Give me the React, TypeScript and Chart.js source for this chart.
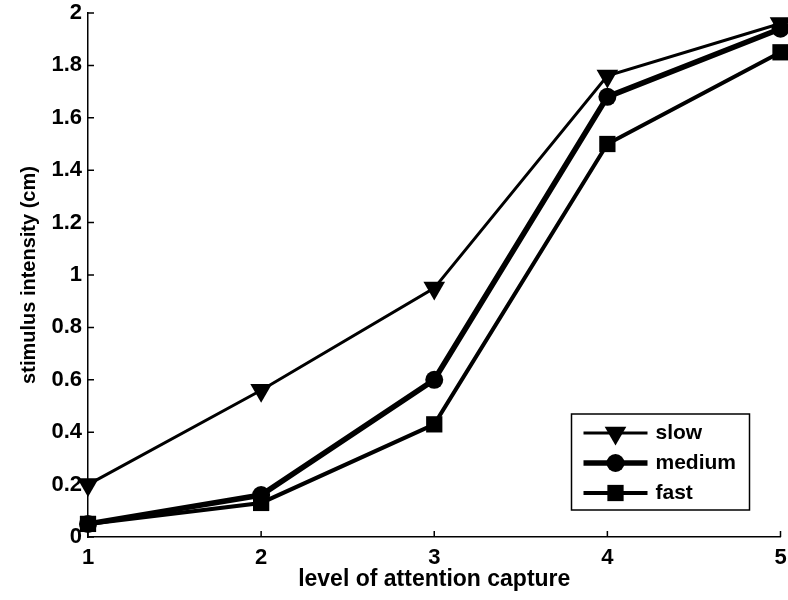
import React, { useEffect, useRef } from "react";
import { Chart, registerables } from "chart.js";

Chart.register(...registerables);

const levels = [1, 2, 3, 4, 5];
const slow = [0.2, 0.56, 0.95, 1.76, 1.96];
const medium = [0.05, 0.16, 0.6, 1.68, 1.94];
const fast = [0.05, 0.13, 0.43, 1.5, 1.85];
const seriesNames = ["slow", "medium", "fast"];

const FONT = '"Liberation Sans", Arial, Helvetica, sans-serif';

const inwardTicks = {
  id: "inwardTicks",
  afterDraw(chart: any) {
    const { ctx, scales } = chart;
    const xs = scales.x;
    const ys = scales.y;
    ctx.save();
    ctx.strokeStyle = "#000";
    ctx.lineWidth = 1.5;
    ctx.beginPath();
    xs.ticks.forEach((t: any) => {
      const px = xs.getPixelForValue(t.value);
      ctx.moveTo(px, ys.bottom);
      ctx.lineTo(px, ys.bottom - 6);
    });
    ys.ticks.forEach((t: any) => {
      const py = ys.getPixelForValue(t.value);
      ctx.moveTo(xs.left, py);
      ctx.lineTo(xs.left + 6, py);
    });
    ctx.stroke();
    ctx.restore();
  },
};

function drawMarker(ctx: CanvasRenderingContext2D, style: string, r: number, rot: number, x: number, y: number) {
  ctx.beginPath();
  if (style === "triangle") {
    let rad = (rot * Math.PI) / 180;
    ctx.moveTo(x + Math.sin(rad) * r, y - Math.cos(rad) * r);
    rad += (2 * Math.PI) / 3;
    ctx.lineTo(x + Math.sin(rad) * r, y - Math.cos(rad) * r);
    rad += (2 * Math.PI) / 3;
    ctx.lineTo(x + Math.sin(rad) * r, y - Math.cos(rad) * r);
    ctx.closePath();
  } else if (style === "rect") {
    const s = Math.SQRT1_2 * r;
    ctx.rect(x - s, y - s, 2 * s, 2 * s);
  } else {
    ctx.arc(x, y, r, 0, Math.PI * 2);
  }
  ctx.fill();
}

const lineLegend = {
  id: "lineLegend",
  afterDraw(chart: any) {
    const { ctx, chartArea } = chart;
    const w = 178;
    const h = 96;
    const right = chartArea.right - 31;
    const bottom = chartArea.bottom - 27;
    const left = right - w;
    const top = bottom - h;
    ctx.save();
    ctx.fillStyle = "#fff";
    ctx.fillRect(left, top, w, h);
    ctx.strokeStyle = "#000";
    ctx.lineWidth = 1.5;
    ctx.strokeRect(left, top, w, h);
    chart.data.datasets.forEach((ds: any, i: number) => {
      const y = top + 19 + i * 30;
      const x0 = left + 12;
      const x1 = left + 76;
      ctx.strokeStyle = "#000";
      ctx.lineWidth = ds.borderWidth;
      ctx.beginPath();
      ctx.moveTo(x0, y);
      ctx.lineTo(x1, y);
      ctx.stroke();
      ctx.fillStyle = "#000";
      drawMarker(ctx, ds.pointStyle, ds.pointRadius, ds.pointRotation || 0, (x0 + x1) / 2, y);
      ctx.fillStyle = "#000";
      ctx.font = `bold 21px ${FONT}`;
      ctx.textBaseline = "middle";
      ctx.textAlign = "left";
      ctx.fillText(ds.label, x1 + 8, y);
    });
    ctx.restore();
  },
};

const zeroPad = (s: any) => {
  s.paddingLeft = 0;
  s.paddingRight = 0;
  s.paddingTop = 0;
  s.paddingBottom = 0;
};

export default function App() {
  const ref = useRef<HTMLCanvasElement>(null);
  useEffect(() => {
    if (!ref.current) return;
    const mk = (name: string, vals: number[], style: string, r: number, bw: number, rot = 0) => ({
      label: name,
      data: levels.map((x, i) => ({ x, y: vals[i] })),
      borderColor: "#000",
      backgroundColor: "#000",
      pointBackgroundColor: "#000",
      pointBorderColor: "#000",
      pointBorderWidth: 0,
      pointStyle: style,
      pointRadius: r,
      pointRotation: rot,
      borderWidth: bw,
      tension: 0,
      fill: false,
      clip: false,
    });
    const chart = new Chart(ref.current, {
      type: "line",
      data: {
        datasets: [
          mk(seriesNames[0], slow, "triangle", 12.5, 3, 180),
          mk(seriesNames[1], medium, "circle", 9, 5.5),
          mk(seriesNames[2], fast, "rect", 11.5, 4),
        ],
      },
      options: {
        responsive: false,
        animation: false,
        layout: { padding: { top: 13, right: 8, left: 0, bottom: 0 } },
        plugins: { legend: { display: false }, tooltip: { enabled: false } },
        scales: {
          x: {
            type: "linear",
            min: 1,
            max: 5,
            afterFit: (s: any) => {
              s.height = 63;
              zeroPad(s);
            },
            grid: { display: false, drawTicks: false },
            border: { display: true, color: "#000", width: 1.5 },
            ticks: {
              stepSize: 1,
              padding: 8,
              color: "#000",
              font: { family: FONT, size: 22, weight: "bold" },
              callback: (v: any) => String(v),
            },
            title: {
              display: true,
              text: "level of attention capture",
              color: "#000",
              font: { family: FONT, size: 23, weight: "bold" },
              padding: { top: 0, bottom: 7 },
            },
          },
          y: {
            type: "linear",
            min: 0,
            max: 2,
            afterFit: (s: any) => {
              s.width = 88;
              zeroPad(s);
            },
            grid: { display: false, drawTicks: false },
            border: { display: true, color: "#000", width: 1.5 },
            ticks: {
              stepSize: 0.2,
              padding: 6,
              color: "#000",
              font: { family: FONT, size: 22, weight: "bold" },
              callback: (v: any) => String(parseFloat(Number(v).toFixed(2))),
            },
            title: {
              display: true,
              text: "stimulus intensity (cm)",
              color: "#000",
              font: { family: FONT, size: 20, weight: "bold" },
              padding: { top: 17, bottom: 0 },
            },
          },
        },
      },
      plugins: [inwardTicks, lineLegend],
    } as any);
    return () => chart.destroy();
  }, []);
  return (
    <div style={{ position: "absolute", left: 0, top: 0, width: 788, height: 600, overflow: "hidden", background: "#fff" }}>
      <canvas ref={ref} width={793} height={600} style={{ width: 793, height: 600, display: "block" }} />
    </div>
  );
}
